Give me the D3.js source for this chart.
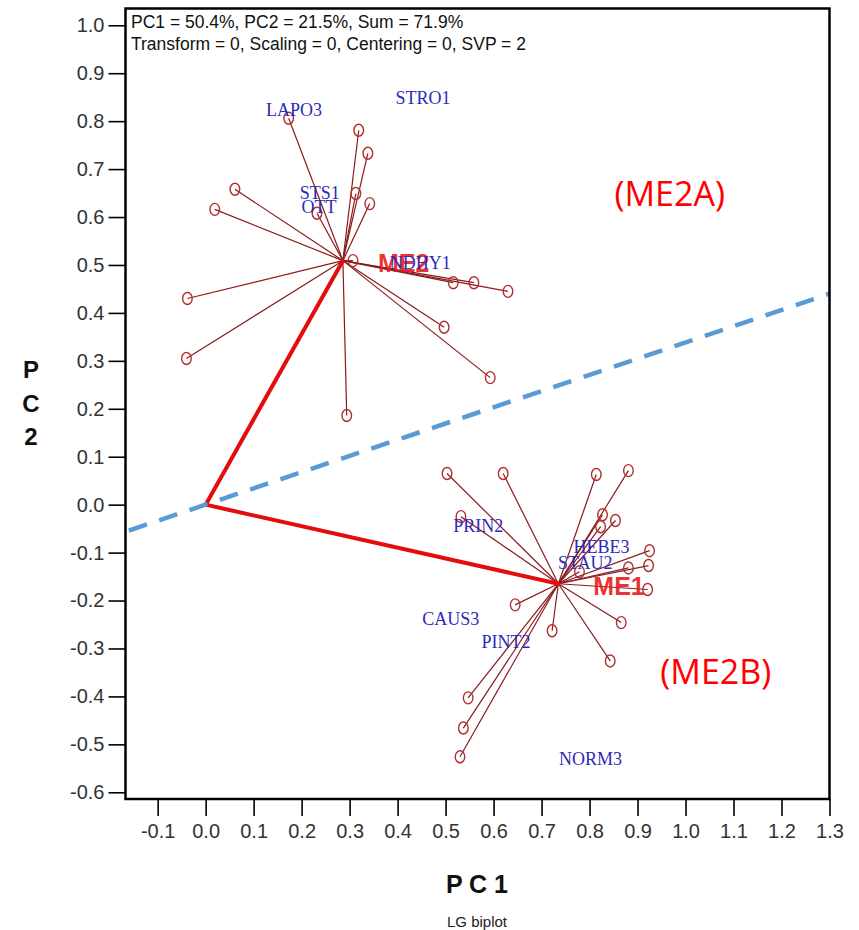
<!DOCTYPE html>
<html>
<head>
<meta charset="utf-8">
<script src="https://cdn.jsdelivr.net/npm/d3@7"></script>
<style>
  body { margin: 0; background: #fff; }
  svg { display: block; }
</style>
</head>
<body>
<svg id="chart" width="859" height="930"></svg>
<script>
// tick labels
const xTicks = [-0.1, 0.0, 0.1, 0.2, 0.3, 0.4, 0.5, 0.6, 0.7, 0.8, 0.9, 1.0, 1.1, 1.2, 1.3]
const yTicks = [1.0, 0.9, 0.8, 0.7, 0.6, 0.5, 0.4, 0.3, 0.2, 0.1, 0.0, -0.1, -0.2, -0.3, -0.4, -0.5, -0.6]

// mega-environment centres (PC1, PC2)
const megaNames = ['ME1', 'ME2']
const megaPC1 = [0.735, 0.286]
const megaPC2 = [-0.165, 0.509]

// environment markers, grouped by mega-environment
const me1EnvPC1 = [0.503, 0.620, 0.814, 0.881, 0.532, 0.827, 0.823, 0.854, 0.925, 0.923, 0.881, 0.779, 0.921, 0.866, 0.843, 0.645, 0.722, 0.547, 0.537, 0.530]
const me1EnvPC2 = [0.065, 0.065, 0.063, 0.071, -0.025, -0.021, -0.046, -0.033, -0.096, -0.127, -0.132, -0.140, -0.177, -0.246, -0.326, -0.209, -0.263, -0.403, -0.466, -0.526]
const me2EnvPC1 = [0.173, 0.319, 0.338, 0.061, 0.019, 0.313, 0.342, 0.232, 0.307, -0.038, -0.040, 0.516, 0.559, 0.630, 0.497, 0.593, 0.294]
const me2EnvPC2 = [0.806, 0.781, 0.733, 0.658, 0.616, 0.649, 0.628, 0.608, 0.509, 0.430, 0.305, 0.463, 0.463, 0.445, 0.370, 0.265, 0.186]

// genotypes
const genoNames = ['LAPO3', 'STRO1', 'STS1', 'OTT', 'NDHY1', 'PRIN2', 'HEBE3', 'STAU2', 'CAUS3', 'PINT2', 'NORM3']
const genoPC1 = [0.184, 0.453, 0.238, 0.236, 0.447, 0.568, 0.825, 0.791, 0.511, 0.626, 0.802]
const genoPC2 = [0.823, 0.848, 0.651, 0.620, 0.505, -0.044, -0.088, -0.121, -0.238, -0.286, -0.530]

// dividing line through the origin
const dividePC1 = [-0.16, 1.3]
const dividePC2 = [-0.054, 0.44]

// region annotations
const regionNames = ['(ME2A)', '(ME2B)']
const regionPC1 = [0.967, 1.063]
const regionPC2 = [0.624, -0.374]

const header = ['PC1 = 50.4%, PC2 = 21.5%, Sum = 71.9%', 'Transform = 0, Scaling = 0, Centering = 0, SVP = 2']

const box = { left: 125.5, right: 829.5, top: 8.5, bottom: 799 }

const svg = d3.select('#chart')

const x = d3.scaleLinear().domain([-0.167, 1.3]).range([box.left, box.right])
const y = d3.scaleLinear().domain([-0.614, 1.035]).range([box.bottom, box.top])

// axes (plain hyphen for negatives, like the original)
const fmt = d => d.toFixed(1)
const xAxis = d3.axisBottom(x).tickValues(xTicks).tickSize(17).tickPadding(8).tickFormat(fmt)
const yAxis = d3.axisLeft(y).tickValues(yTicks).tickSize(17).tickPadding(4).tickFormat(fmt)

const gx = svg.append('g').attr('transform', `translate(0,${box.bottom})`).call(xAxis)
const gy = svg.append('g').attr('transform', `translate(${box.left},0)`).call(yAxis)

gx.select('.domain').remove()
gy.select('.domain').remove()
gx.selectAll('.tick line').attr('stroke', '#000').attr('stroke-width', 1.6)
gy.selectAll('.tick line').attr('stroke', '#000').attr('stroke-width', 1.6)
gx.selectAll('.tick text')
  .attr('fill', '#333')
  .style('font', '20px "Liberation Sans", Arial, sans-serif')
gy.selectAll('.tick text')
  .attr('fill', '#333')
  .style('font', '20px "Liberation Sans", Arial, sans-serif')

// spokes from each mega-environment centre to its environments
const spokeColor = '#8b1a1a'
const markerColor = '#b03030'
const envGroups = [
  { c: 0, px: me1EnvPC1, py: me1EnvPC2 },
  { c: 1, px: me2EnvPC1, py: me2EnvPC2 }
]

const plot = svg.append('g')

envGroups.forEach(grp => {
  const cx = x(megaPC1[grp.c])
  const cy = y(megaPC2[grp.c])
  const pts = grp.px.map((v, i) => [v, grp.py[i]])
  plot.selectAll(null)
    .data(pts)
    .enter()
    .append('line')
    .attr('x1', cx)
    .attr('y1', cy)
    .attr('x2', d => x(d[0]))
    .attr('y2', d => y(d[1]))
    .attr('stroke', spokeColor)
    .attr('stroke-width', 1.2)
  plot.selectAll(null)
    .data(pts)
    .enter()
    .append('ellipse')
    .attr('cx', d => x(d[0]))
    .attr('cy', d => y(d[1]))
    .attr('rx', 4.8)
    .attr('ry', 6)
    .attr('fill', 'none')
    .attr('stroke', markerColor)
    .attr('stroke-width', 1.4)
})

// thick vectors from origin to mega-environment centres
plot.selectAll(null)
  .data(megaNames)
  .enter()
  .append('line')
  .attr('x1', x(0))
  .attr('y1', y(0))
  .attr('x2', (d, i) => x(megaPC1[i]))
  .attr('y2', (d, i) => y(megaPC2[i]))
  .attr('stroke', '#e30d0d')
  .attr('stroke-width', 4)
  .attr('stroke-linecap', 'round')

// mega-environment labels
plot.selectAll(null)
  .data(megaNames)
  .enter()
  .append('text')
  .attr('x', (d, i) => x(megaPC1[i]) + 35)
  .attr('y', (d, i) => y(megaPC2[i]) + 11)
  .attr('fill', '#e81818')
  .attr('fill-opacity', 0.9)
  .style('font', 'bold 25px "Liberation Sans", Arial, sans-serif')
  .text(d => d)

// genotype labels
plot.selectAll(null)
  .data(genoNames)
  .enter()
  .append('text')
  .attr('x', (d, i) => x(genoPC1[i]))
  .attr('y', (d, i) => y(genoPC2[i]))
  .attr('text-anchor', 'middle')
  .attr('dominant-baseline', 'central')
  .attr('fill', '#2b2bb8')
  .style('font', '18px "Liberation Serif", "Times New Roman", serif')
  .text(d => d)

// dashed dividing line
svg.append('line')
  .attr('x1', x(dividePC1[0]))
  .attr('y1', y(dividePC2[0]))
  .attr('x2', x(dividePC1[1]))
  .attr('y2', y(dividePC2[1]))
  .attr('stroke', '#5b9bd5')
  .attr('stroke-width', 4.5)
  .attr('stroke-dasharray', '19,13')

// plot frame
svg.append('rect')
  .attr('x', box.left)
  .attr('y', box.top)
  .attr('width', box.right - box.left)
  .attr('height', box.bottom - box.top)
  .attr('fill', 'none')
  .attr('stroke', '#000')
  .attr('stroke-width', 2.5)

// header lines inside the frame
svg.selectAll('.header')
  .data(header)
  .enter()
  .append('text')
  .attr('class', 'header')
  .attr('x', 131)
  .attr('y', (d, i) => 28 + i * 22)
  .attr('fill', '#111')
  .style('font', '17.5px "Liberation Sans", Arial, sans-serif')
  .text(d => d)

// region annotations
svg.selectAll('.region')
  .data(regionNames)
  .enter()
  .append('text')
  .attr('class', 'region')
  .attr('x', (d, i) => x(regionPC1[i]))
  .attr('y', (d, i) => y(regionPC2[i]))
  .attr('text-anchor', 'middle')
  .attr('fill', '#ff0000')
  .style('font', '34px "Open Sans", sans-serif')
  .text(d => d)

// axis titles
svg.append('text')
  .attr('x', 477)
  .attr('y', 893)
  .attr('text-anchor', 'middle')
  .attr('fill', '#111')
  .style('font', 'bold 25px "Liberation Sans", Arial, sans-serif')
  .text('P C 1')

svg.selectAll('.ytitle')
  .data(['P', 'C', '2'])
  .enter()
  .append('text')
  .attr('class', 'ytitle')
  .attr('x', 31)
  .attr('y', (d, i) => 378 + i * 33.5)
  .attr('text-anchor', 'middle')
  .attr('fill', '#111')
  .style('font', 'bold 24px "Liberation Sans", Arial, sans-serif')
  .text(d => d)

svg.append('text')
  .attr('x', 477)
  .attr('y', 927)
  .attr('text-anchor', 'middle')
  .attr('fill', '#222')
  .style('font', '15px "Liberation Sans", Arial, sans-serif')
  .text('LG biplot')
</script>
</body>
</html>
